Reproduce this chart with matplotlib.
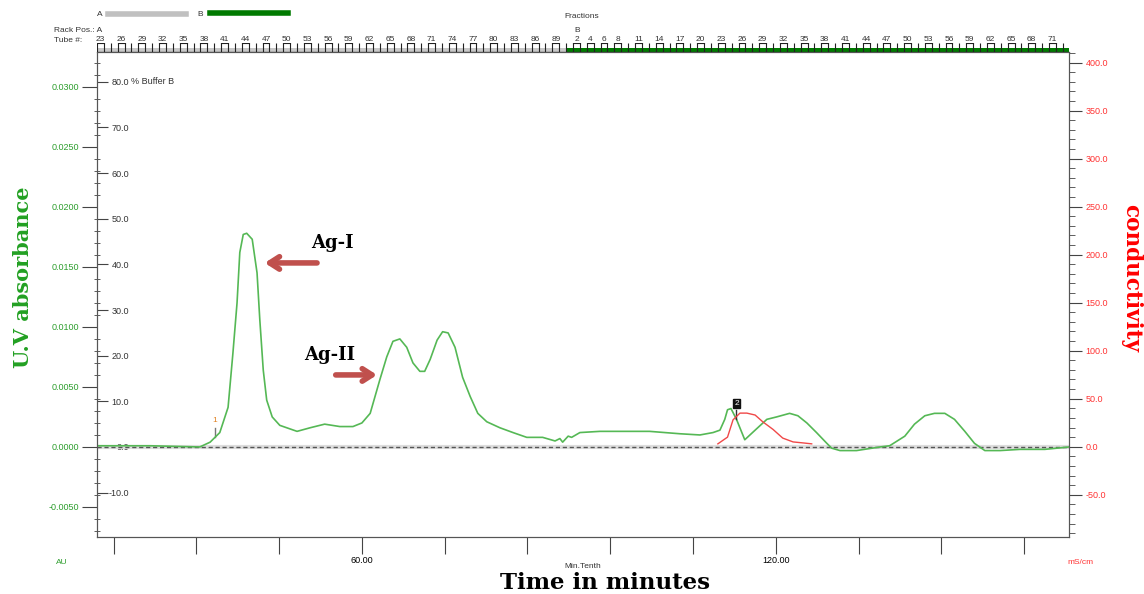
import matplotlib
matplotlib.use("Agg")
import matplotlib.pyplot as plt
import matplotlib.ticker as mticker
from matplotlib.patches import Rectangle
from matplotlib.lines import Line2D

plt.rcParams['font.family'] = ['Liberation Sans', 'DejaVu Sans']

# --- UV trace (minutes, AU) ---
uv_time = [21.6, 29.3, 36.5, 38.0, 39.4, 40.6, 41.3, 41.9, 42.3, 42.8, 43.3, 44.1,
           44.8, 45.2, 45.7, 46.2, 47.0, 48.1, 50.6, 52.5, 54.6, 56.8, 58.7, 60.0,
           61.2, 62.6, 63.6, 64.5, 65.5, 66.5, 67.4, 68.4, 69.1, 69.9, 70.9, 71.7,
           72.5, 73.5, 74.6, 75.7, 76.8, 78.1, 80.0, 81.9, 83.9, 86.2, 88.0, 88.7,
           89.1, 89.9, 90.4, 91.6, 94.5, 97.4, 101.7, 106.1, 109.0, 110.9, 111.9,
           112.6, 113.0, 113.5, 114.3, 115.5, 117.0, 118.7, 120.1, 122.0, 123.2,
           124.5, 125.9, 127.4, 128.1, 129.3, 131.7, 135.1, 136.5, 138.7, 140.1,
           141.6, 143.0, 144.5, 145.9, 147.4, 148.8, 150.3, 152.5, 155.4, 159.0, 162.5]
uv_au = [0.0001, 0.0001, 0.0000, 0.0004, 0.0012, 0.0033, 0.0078, 0.0120, 0.0162,
         0.0177, 0.0178, 0.0173, 0.0145, 0.0106, 0.0064, 0.0039, 0.0025, 0.0018,
         0.0013, 0.0016, 0.0019, 0.0017, 0.0017, 0.0020, 0.0028, 0.0056, 0.0075,
         0.0088, 0.0090, 0.0083, 0.0070, 0.0063, 0.0063, 0.0073, 0.0089, 0.0096,
         0.0095, 0.0083, 0.0058, 0.0042, 0.0028, 0.0021, 0.0016, 0.0012, 0.0008,
         0.0008, 0.0005, 0.0007, 0.0004, 0.0009, 0.0008, 0.0012, 0.0013, 0.0013,
         0.0013, 0.0011, 0.0010, 0.0012, 0.0014, 0.0023, 0.0031, 0.0032, 0.0023,
         0.0006, 0.0014, 0.0023, 0.0025, 0.0028, 0.0026, 0.0020, 0.0012, 0.0003,
         -0.0001, -0.0003, -0.0003, 0.0000, 0.0001, 0.0009, 0.0019, 0.0026, 0.0028,
         0.0028, 0.0023, 0.0013, 0.0003, -0.0003, -0.0003, -0.0002, -0.0002, 0.0000]

# --- conductivity trace (minutes, mS/cm) ---
cond_time = [111.6, 113.0, 113.8, 114.8, 115.8, 117.0, 118.1, 119.6, 121.0, 122.5, 123.9, 125.2]
cond_ms = [3, 10, 28, 35, 35, 33, 26, 18, 9, 5, 4, 3]

# --- fraction collector ruler ---
rack_a_tubes = list(range(23, 91))
rack_a_labels = list(range(23, 90, 3))
rack_b_tubes = list(range(1, 75))
rack_b_labels = [2, 4, 6, 8] + list(range(11, 72, 3))
rack_a_start = 21.6   # minutes, start of tube 23
rack_b_start = 89.6   # minutes, start of rack B tube 1

x_min, x_max = 21.6, 162.5
au_min, au_max = -0.0075, 0.0329
ms_min, ms_max = -94, 411
buffer_per_au = 2630.0

green_txt = '#2e9e2e'
green_line = '#55b855'
red_txt = '#ff3333'
arrow_col = '#c0504d'
serif = 'DejaVu Serif'

fig = plt.figure(figsize=(11.44, 5.94), dpi=100)
W, H = 1144.0, 594.0
ax = fig.add_axes([97 / W, 1 - 537 / H, 972 / W, 485 / H])

# baseline
ax.axhline(0, color='#dddddd', lw=3, zorder=1)
ax.axhline(0, color='#555555', lw=1, ls=(0, (3, 2)), zorder=2)

ax.plot(uv_time, uv_au, color=green_line, lw=1.2, zorder=4)
ax.set_xlim(x_min, x_max)
ax.set_ylim(au_min, au_max)

for s in ax.spines.values():
    s.set_color('#555555')

ax.yaxis.set_major_locator(mticker.MultipleLocator(0.005))
ax.yaxis.set_minor_locator(mticker.MultipleLocator(0.001))
ax.yaxis.set_major_formatter(mticker.FormatStrFormatter('%.4f'))
ax.tick_params(axis='y', which='major', length=11, direction='out', color='#444444',
               labelcolor=green_txt, labelsize=6.5, pad=2)
ax.tick_params(axis='y', which='minor', length=4, direction='inout', color='#444444')

ax.xaxis.set_major_locator(mticker.MultipleLocator(12))
ax.xaxis.set_major_formatter(mticker.FuncFormatter(
    lambda v, p: '%.2f' % v if round(v) in (60, 120) else ''))
ax.tick_params(axis='x', length=12, direction='out', color='#444444',
               labelsize=6.5, pad=2)

# inner % Buffer B axis
sec = ax.secondary_yaxis('left', functions=(lambda a: a * buffer_per_au,
                                            lambda b: b / buffer_per_au))
sec.set_yticks([-10, 0, 10, 20, 30, 40, 50, 60, 70, 80])
sec.yaxis.set_major_formatter(mticker.FormatStrFormatter('%.1f'))
sec.tick_params(axis='y', direction='in', length=8, color='#444444',
                labelsize=6.5, pad=-23, labelcolor='#333333')
sec.spines['left'].set_visible(False)
ax.text(0.035, 80 / buffer_per_au, '% Buffer B', fontsize=6.5, color='#333333',
        va='center', transform=ax.get_yaxis_transform())

# conductivity axis
ax2 = ax.twinx()
ax2.plot(cond_time, cond_ms, color='#f04848', lw=1.0, zorder=3)
ax2.set_ylim(ms_min, ms_max)
ax2.yaxis.set_major_locator(mticker.MultipleLocator(50))
ax2.yaxis.set_minor_locator(mticker.MultipleLocator(10))
ax2.yaxis.set_major_formatter(mticker.FormatStrFormatter('%.1f'))
ax2.tick_params(axis='y', which='major', length=9, color='#444444',
                labelcolor=red_txt, labelsize=6.5, pad=3)
ax2.tick_params(axis='y', which='minor', length=4, color='#444444')
for s in ax2.spines.values():
    s.set_color('#555555')

# axis titles
ax.set_ylabel('U.V absorbance', fontsize=15, fontweight='bold', family=serif,
              color='#22a022')
ax.yaxis.set_label_coords(-0.066, 0.536)
ax2.set_ylabel('conductivity', fontsize=15.5, fontweight='bold', family=serif,
               color='#ff0000', rotation=270, va='center')
ax2.yaxis.set_label_coords(1.064, 0.534)
ax.set_xlabel('Time in minutes', fontsize=16.5, fontweight='bold', family=serif)
ax.xaxis.set_label_coords(0.523, -0.072)

# peak annotations
ax.text(55.8, 0.0170, 'Ag-I', fontsize=13, fontweight='bold', family=serif,
        ha='center', va='center')
ax.annotate('', xy=(45.5, 0.01533), xytext=(53.9, 0.01533),
            arrowprops=dict(arrowstyle='->,head_length=0.7,head_width=0.45',
                            color=arrow_col, lw=4))
ax.text(55.4, 0.00767, 'Ag-II', fontsize=13, fontweight='bold', family=serif,
        ha='center', va='center')
ax.annotate('', xy=(62.6, 0.0060), xytext=(55.8, 0.0060),
            arrowprops=dict(arrowstyle='->,head_length=0.7,head_width=0.45',
                            color=arrow_col, lw=4))

# event marks
ax.text(38.7, 0.0022, '1', fontsize=6, color='#e08020', ha='center', va='center')
ax.plot([38.7, 38.7], [0.0008, 0.0016], color='#777777', lw=1)
ax.text(114.3, 0.0036, '2', fontsize=6, color='white', ha='center', va='center',
        zorder=6, bbox=dict(boxstyle='square,pad=0.15', fc='#111111', ec='#111111'))
ax.plot([114.3, 114.3], [0.0023, 0.0031], color='#333333', lw=1, zorder=5)

# fraction ruler along the top
axr = fig.add_axes([97 / W, 1 - 52 / H, 972 / W, 9 / H])
axr.set_xlim(x_min, x_max)
axr.set_ylim(0, 1)
axr.axis('off')
axr.add_patch(Rectangle((rack_a_start, 0), rack_b_start - rack_a_start, 0.5,
                        fc='#c8c8c8', ec='none'))
axr.add_patch(Rectangle((rack_b_start, 0), x_max - rack_b_start, 0.5,
                        fc='#007a00', ec='none'))
axr.axhline(0, color='#333333', lw=1)
a_edges = [rack_a_start + (k - 23) for k in rack_a_tubes]
b_edges = [rack_b_start + (j - 1) for j in rack_b_tubes if rack_b_start + (j - 1) <= x_max]
axr.vlines(a_edges + b_edges, 0, 1, color='#222222', lw=0.8)
for k in rack_a_labels:
    t0 = rack_a_start + (k - 23)
    axr.plot([t0, t0 + 1], [1, 1], color='#222222', lw=0.8)
    axr.text(t0 + 0.5, 1.05, str(k), fontsize=6, ha='center', va='bottom',
             color='#333333', clip_on=False)
for j in rack_b_labels:
    t0 = rack_b_start + (j - 1)
    axr.plot([t0, t0 + 1], [1, 1], color='#222222', lw=0.8)
    axr.text(t0 + 0.5, 1.05, str(j), fontsize=6, ha='center', va='bottom',
             color='#333333', clip_on=False)

# header
fig.text(97 / W, 1 - 14 / H, 'A', fontsize=6, va='center', color='#333333')
fig.add_artist(Line2D([108 / W, 186 / W], [1 - 14 / H, 1 - 14 / H], color='#c0c0c0', lw=4))
fig.text(197 / W, 1 - 14 / H, 'B', fontsize=6, va='center', color='#333333')
fig.add_artist(Line2D([210 / W, 288 / W], [1 - 13 / H, 1 - 13 / H], color='#007a00', lw=4))
fig.text(582 / W, 1 - 16 / H, 'Fractions', fontsize=6, ha='center', va='center',
         color='#333333')
fig.text(54 / W, 1 - 31 / H, 'Rack Pos.: A', fontsize=6, va='center', color='#333333')
fig.text(54 / W, 1 - 40 / H, 'Tube #:', fontsize=6, va='center', color='#333333')
fig.text(577 / W, 1 - 30 / H, 'B', fontsize=6, ha='center', va='center', color='#333333')

# footer units
fig.text(62 / W, 1 - 563 / H, 'AU', fontsize=6, ha='center', va='center', color=green_txt)
fig.text(1080 / W, 1 - 563 / H, 'mS/cm', fontsize=6, ha='center', va='center', color=red_txt)
fig.text(583 / W, 1 - 566 / H, 'Min.Tenth', fontsize=6, ha='center', va='center',
         color='#333333')

fig.savefig('out.png', dpi=100)
